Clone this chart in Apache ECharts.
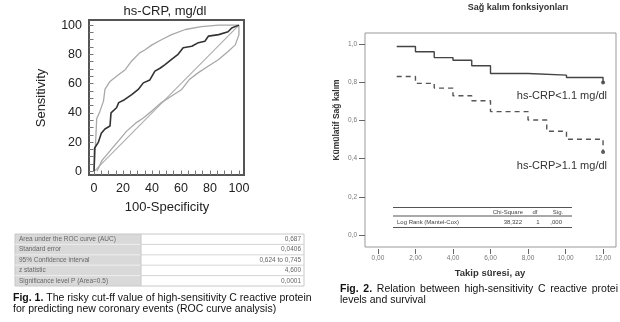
<!DOCTYPE html>
<html>
<head>
<meta charset="utf-8">
<script src="https://cdn.jsdelivr.net/npm/echarts@6/dist/echarts.min.js"></script>
<style>
html, body { margin: 0; padding: 0; background: #fff; }
#chart { width: 620px; height: 322px; }
</style>
</head>
<body>
<div id="chart"></div>
<script>
// ROC curve (fig. 1) - x: 100-specificity, y: sensitivity
var rocCurve = [[0, 0], [0.4, 16], [3, 20], [5, 26], [7.5, 29], [11, 31], [11.7, 40], [15.5, 43.5], [17, 47], [21, 49],
	[26, 52.5], [30.5, 56], [34, 60.5], [38.5, 62.5], [42, 68.5], [45.5, 70.5], [49, 73], [53.5, 76.5], [58, 80],
	[61.5, 84.5], [67.5, 85.5], [72, 88], [76.5, 89], [79, 92.5], [86, 93.5], [92.5, 95.5], [95, 98], [100, 100]];
var rocUpper = [[0, 0], [1, 18.5], [1.8, 36], [4, 41], [6.5, 48], [7.5, 56], [11, 61.5], [15.5, 65], [21.5, 69.5],
	[26, 75.5], [31.5, 81], [35, 83], [40, 86.5], [46.5, 90], [53.5, 93.5], [63, 97], [74, 99], [86, 100], [100, 100]];
var rocLower = [[2, 0], [5.5, 7.5], [11, 14], [17, 21], [22.5, 27.5], [29.5, 33.5], [34, 36.5], [40, 41.5], [46.5, 47],
	[53.5, 51.5], [60.5, 56], [66, 63], [72, 67.5], [79, 72], [86, 76.5], [92.5, 82], [97.5, 86.5], [100, 93.5], [100, 100]];
var rocDiagonal = [[0, 0], [100, 100]];
var rocTicks = [0, 20, 40, 60, 80, 100];
var rocMinorTicks = [0, 5, 10, 15, 20, 25, 30, 35, 40, 45, 50, 55, 60, 65, 70, 75, 80, 85, 90, 95, 100];

var aucLabels = ['Area under the ROC curve (AUC)', 'Standard error', '95% Confidence interval', 'z statistic', 'Significance level P (Area=0.5)'];
var aucValues = ['0,687', '0,0406', '0,624 to 0,745', '4,600', '0,0001'];

// Kaplan-Meier (fig. 2) - months, cumulative survival
var kmLow = [[1, 0.988], [2, 0.961], [3, 0.930], [4, 0.916], [5, 0.887], [6, 0.847], [8, 0.838], [10.05, 0.826], [12, 0.80]];
var kmHigh = [[1, 0.831], [2, 0.795], [3, 0.770], [4, 0.730], [5, 0.704], [6, 0.647], [8, 0.603], [9, 0.544], [10.05, 0.502], [12, 0.435]];
var kmCensored = [[12, 0.80], [12, 0.435]];
var kmYTicks = [0, 0.2, 0.4, 0.6, 0.8, 1.0];
var kmXTicks = [0, 2, 4, 6, 8, 10, 12];

var logRankHeader = ['Chi-Square', 'df', 'Sig.'];
var logRankRow = ['Log Rank (Mantel-Cox)', '38,322', '1', ',000'];

var FONT = 'Liberation Sans, Arial, sans-serif';

var chart = echarts.init(document.getElementById('chart'), null, { renderer: 'canvas' });

// build graphic elements (titles, tables, captions)
var graphics = [];

function txt(x, y, s, size, opts) {
	opts = opts || {};
	graphics.push({
		type: 'text',
		x: x,
		y: y,
		style: {
			text: s,
			font: (opts.bold ? 'bold ' : '') + size + 'px ' + FONT,
			fill: opts.color || '#222',
			align: opts.align || 'left',
			verticalAlign: 'middle',
			rich: opts.rich
		}
	});
}

function vtxt(x, y, s, font, color) {
	graphics.push({
		type: 'text', x: x, y: y, rotation: Math.PI / 2,
		style: { text: s, font: font, fill: color, align: 'center', verticalAlign: 'middle' }
	});
}

function hline(x1, x2, y, color, w) {
	graphics.push({ type: 'line', shape: { x1: x1, y1: y, x2: x2, y2: y }, style: { stroke: color, lineWidth: w || 1 } });
}

// fig 1 texts
txt(165, 11, 'hs-CRP, mg/dl', 13, { align: 'center' });
txt(167, 207, '100-Specificity', 13, { align: 'center' });
vtxt(41, 98, 'Sensitivity', '13px ' + FONT, '#222');

// AUC table
var tLeft = 15, tRight = 304, tTop = 234, rowH = 10.4, splitX = 141;
graphics.push({ type: 'rect', shape: { x: tLeft, y: tTop, width: splitX - tLeft, height: rowH * aucLabels.length }, style: { fill: '#d9d9d9' } });
graphics.push({ type: 'rect', shape: { x: tLeft, y: tTop, width: tRight - tLeft, height: rowH * aucLabels.length }, style: { fill: 'none', stroke: '#c8c8c8', lineWidth: 1 } });
for (var i = 0; i < aucLabels.length; i++) {
	if (i > 0) {
		hline(tLeft, splitX, tTop + rowH * i, '#eeeeee');
		hline(splitX, tRight, tTop + rowH * i, '#d4d4d4');
	}
	txt(tLeft + 4, tTop + rowH * i + rowH / 2, aucLabels[i], 6.5, { color: '#666' });
	txt(tRight - 3, tTop + rowH * i + rowH / 2, aucValues[i], 6.5, { color: '#666', align: 'right' });
}
graphics.push({ type: 'line', shape: { x1: splitX, y1: tTop, x2: splitX, y2: tTop + rowH * aucLabels.length }, style: { stroke: '#c8c8c8' } });

// captions
var capRich = { b: { fontWeight: 'bold', fontSize: 10.5, fontFamily: FONT, fill: '#111' } };
txt(13, 298, '{b|Fig. 1.} The risky cut-ff value of high-sensitivity C reactive protein', 10.5, { color: '#111', rich: capRich });
txt(13, 309, 'for predicting new coronary events (ROC curve analysis)', 10.5, { color: '#111' });

// justified caption line for fig 2
(function () {
	var ctx = document.createElement('canvas').getContext('2d');
	var words = ['Fig.', '2.', 'Relation', 'between', 'high-sensitivity', 'C', 'reactive', 'protei'];
	var left = 340, right = 618, size = 10.5;
	var widths = words.map(function (w, k) {
		ctx.font = (k < 2 ? 'bold ' : '') + size + 'px ' + FONT;
		return ctx.measureText(w).width;
	});
	var total = widths.reduce(function (a, b) { return a + b; }, 0);
	var gap = (right - left - total) / (words.length - 1);
	var x = left;
	for (var k = 0; k < words.length; k++) {
		txt(x, 289, words[k], size, { bold: k < 2, color: '#111' });
		x += widths[k] + gap;
	}
})();
txt(340, 300, 'levels and survival', 10.5, { color: '#111' });

// fig 2 texts
txt(518, 8, 'Sağ kalım fonksiyonları', 9, { bold: true, align: 'center', color: '#333' });
txt(490, 273, 'Takip süresi, ay', 9.5, { bold: true, align: 'center', color: '#333' });
vtxt(337, 120, 'Kümülatif Sağ kalım', 'bold 8.5px ' + FONT, '#333');
txt(607, 96, 'hs-CRP<1.1 mg/dl', 11, { align: 'right', color: '#333' });
txt(607, 166, 'hs-CRP>1.1 mg/dl', 11, { align: 'right', color: '#333' });

// log rank table
hline(393, 572, 207.5, '#555', 1.2);
hline(393, 572, 216, '#555', 1.2);
hline(393, 572, 227.5, '#555', 1.2);
txt(523, 212, logRankHeader[0], 6, { align: 'right', color: '#444' });
txt(535, 212, logRankHeader[1], 6, { align: 'center', color: '#444' });
txt(558, 212, logRankHeader[2], 6, { align: 'center', color: '#444' });
txt(397, 222, logRankRow[0], 6, { color: '#444' });
txt(522, 222, logRankRow[1], 6, { align: 'right', color: '#444' });
txt(538, 222, logRankRow[2], 6, { align: 'center', color: '#444' });
txt(562, 222, logRankRow[3], 6, { align: 'right', color: '#444' });

var option = {
	backgroundColor: '#fff',
	animation: false,
	textStyle: { fontFamily: FONT },
	grid: [
		{ left: 89, top: 20, width: 155, height: 155, show: true, borderColor: '#555', borderWidth: 2, backgroundColor: '#fff' },
		{ left: 365, top: 33, width: 251, height: 214, show: true, borderColor: '#999', borderWidth: 1, backgroundColor: '#fff' }
	],
	xAxis: [
		{
			gridIndex: 0, type: 'value', min: -3.5, max: 103.5,
			axisLine: { show: false, onZero: false },
			axisTick: { show: true, inside: true, length: 4.5, customValues: rocMinorTicks, lineStyle: { color: '#777' } },
			axisLabel: { customValues: rocTicks, fontSize: 12.5, color: '#222', margin: 7 },
			splitLine: { show: false }
		},
		{
			gridIndex: 1, type: 'value', min: -0.69, max: 12.69,
			axisLine: { show: false, onZero: false },
			axisTick: { show: true, length: 5, customValues: kmXTicks, lineStyle: { color: '#666' } },
			axisLabel: { customValues: kmXTicks, fontSize: 6.5, color: '#777', margin: 6,
				formatter: function (v) { return v.toFixed(2).replace('.', ','); } },
			splitLine: { show: false },
			offset: 2
		}
	],
	yAxis: [
		{
			gridIndex: 0, type: 'value', min: -2.5, max: 103.5,
			axisLine: { show: false, onZero: false },
			axisTick: { show: true, inside: true, length: 4.5, customValues: rocMinorTicks, lineStyle: { color: '#777' } },
			axisLabel: { customValues: rocTicks, fontSize: 12.5, color: '#222', margin: 7 },
			splitLine: { show: false }
		},
		{
			gridIndex: 1, type: 'value', min: -0.063, max: 1.059,
			axisLine: { show: false, onZero: false },
			axisTick: { show: true, length: 6, customValues: kmYTicks, lineStyle: { color: '#666' } },
			axisLabel: { customValues: kmYTicks, fontSize: 6.5, color: '#777', margin: 8,
				formatter: function (v) { return v.toFixed(1).replace('.', ','); } },
			splitLine: { show: false }
		}
	],
	series: [
		{ name: 'diagonal', type: 'line', xAxisIndex: 0, yAxisIndex: 0, data: rocDiagonal, showSymbol: false,
			lineStyle: { color: '#b0b0b0', width: 1.2 } },
		{ name: 'upper', type: 'line', xAxisIndex: 0, yAxisIndex: 0, data: rocUpper, showSymbol: false,
			lineStyle: { color: '#a8a8a8', width: 1.3 } },
		{ name: 'lower', type: 'line', xAxisIndex: 0, yAxisIndex: 0, data: rocLower, showSymbol: false,
			lineStyle: { color: '#a8a8a8', width: 1.3 } },
		{ name: 'roc', type: 'line', xAxisIndex: 0, yAxisIndex: 0, data: rocCurve, showSymbol: false,
			lineStyle: { color: '#333', width: 1.6 } },
		{ name: 'low', type: 'line', step: 'end', xAxisIndex: 1, yAxisIndex: 1, data: kmLow, showSymbol: false,
			lineStyle: { color: '#444', width: 1.4 } },
		{ name: 'high', type: 'line', step: 'end', xAxisIndex: 1, yAxisIndex: 1, data: kmHigh, showSymbol: false,
			lineStyle: { color: '#555', width: 1.4, type: [5, 4] } },
		{ name: 'censored', type: 'scatter', xAxisIndex: 1, yAxisIndex: 1, data: kmCensored, symbolSize: 4,
			itemStyle: { color: '#333' } }
	],
	graphic: graphics
};

chart.setOption(option);
</script>
</body>
</html>
